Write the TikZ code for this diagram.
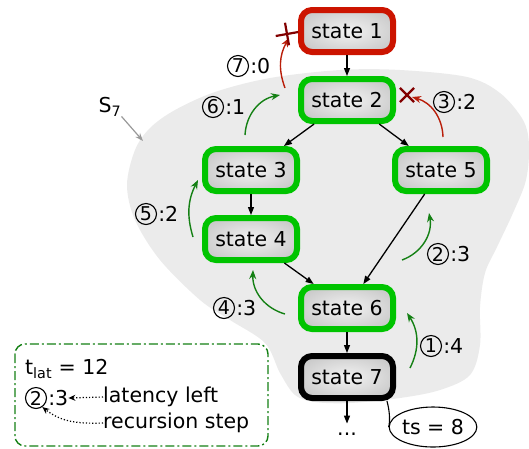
\documentclass[tikz,border=0pt]{standalone}
\usepackage{fontspec}
\setmainfont{DejaVu Sans}
\usetikzlibrary{arrows.meta,positioning}
\usetikzlibrary{shapes.misc,shapes.geometric}

\definecolor{stategreen}{RGB}{0,196,0}
\definecolor{statered}{RGB}{204,20,0}
\definecolor{stepgreen}{RGB}{20,128,20}
\definecolor{stepred}{RGB}{185,30,10}
\definecolor{crossred}{RGB}{130,0,0}
\definecolor{blobgray}{RGB}{235,235,235}

\pgfdeclareradialshading{statefill}{\pgfpoint{0bp}{0bp}}{color(0bp)=(white!95!black); color(46bp)=(black!30); color(50bp)=(black!30)}

\tikzset{
	statebox/.style={rectangle, rounded corners=11pt, line width=6pt, draw=stategreen,
		minimum width=92pt, minimum height=42pt, shading=statefill,
		font=\fontsize{20.5}{24}\selectfont},
	flow/.style={-{Triangle[width=6pt,length=8pt]}, line width=1.3pt},
	stepgo/.style={-{Stealth[width=7pt,length=9pt]}, line width=1.4pt, draw=stepgreen},
	stepstop/.style={-{Stealth[width=7pt,length=9pt]}, line width=1.4pt, draw=stepred},
	stopmark/.style={cross out, draw=crossred, line width=2.2pt, minimum size=12pt, inner sep=0pt},
	steplabel/.style={font=\fontsize{20.5}{24}\selectfont, inner sep=0pt},
	stepcircle/.style={circle, draw, line width=1.1pt, minimum size=21pt, inner sep=0pt,
		font=\fontsize{19}{22}\selectfont}
}

\begin{document}
\begin{tikzpicture}[x=1pt,y=-1pt]
\useasboundingbox (0,0) rectangle (529,448);

% the set S_7
\fill[blobgray] plot[smooth cycle, tension=0.55] coordinates {
	(127,185) (135,150) (150,128) (175,110) (215,92) (270,78) (340,70) (400,70)
	(467,77) (500,93) (523,120) (529,145) (526,180) (513,213) (497,247) (485,273)
	(480,307) (480,345) (470,375) (440,390) (400,398) (350,403) (315,402) (295,395)
	(280,373) (265,343) (230,320) (200,300) (160,260) (135,220)};

\node[steplabel] (sname) at (110,107) {S\textsubscript{7}};
\coordinate (sedge) at (143,141);
\draw[-{Stealth[width=6pt,length=8pt]}, line width=1.2pt, gray!80] (sname.south east) -- (sedge);

% states
\node[statebox, draw=statered] (s1) at (347,31) {state 1};
\node[statebox] (s2) at (347,100) {state 2};
\node[statebox] (s3) at (251,170) {state 3};
\node[statebox] (s5) at (441,170) {state 5};
\node[statebox] (s4) at (251,239) {state 4};
\node[statebox] (s6) at (347,308) {state 6};
\node[statebox, draw=black] (s7) at (347,377) {state 7};
\node[steplabel, anchor=base] (more) at (347,435) {\vphantom{x}...};
\node[ellipse, draw, line width=1.1pt, minimum width=66pt, minimum height=40pt, inner sep=0pt,
	font=\fontsize{20.5}{24}\selectfont] (ts) at (433,427) {ts = 8};

\draw[flow] (s1) -- (s2);
\draw[flow] (s2) -- (s3);
\draw[flow] (s2) -- (s5);
\draw[flow] (s3) -- (s4);
\draw[flow] (s4) -- (s6);
\draw[flow] (s5) -- (s6);
\draw[flow] (s6) -- (s7);
\draw[flow] (s7) -- (more.north);
\draw[line width=1.1pt] (s7.-31) .. controls (390,412) and (390,422) .. (ts.west);

% recursion steps
\coordinate (r1a) at (410,368); \coordinate (r1b) at (407,313);
\coordinate (r2a) at (402,260); \coordinate (r2b) at (429,213);
\coordinate (r3a) at (443,137); \coordinate (r3b) at (412,97);
\coordinate (r4a) at (285,314); \coordinate (r4b) at (253,270);
\coordinate (r5a) at (193,237); \coordinate (r5b) at (198,180);
\coordinate (r6a) at (245,135); \coordinate (r6b) at (280,95);
\coordinate (r7a) at (285,88); \coordinate (r7b) at (289,38);

\draw[stepgo] (r1a) to[bend right=30] (r1b);
\draw[stepgo] (r2a) to[bend right=40] (r2b);
\draw[stepstop] (r3a) to[bend right=36] (r3b);
\draw[stepgo] (r4a) to[bend left=38] (r4b);
\draw[stepgo] (r5a) to[bend left=22] (r5b);
\draw[stepgo] (r6a) to[bend left=38] (r6b);
\draw[stepstop] (r7a) to[bend left=25] (r7b);
\node[stopmark] (x3) at (407,95) {};
\node[stopmark, minimum size=14pt, rotate=55] (x7) at (287,34) {};

\node[stepcircle] (c1) at (431,346) {1};
\node[stepcircle] (c2) at (438,254) {2};
\node[stepcircle] (c3) at (444,102) {3};
\node[stepcircle] (c4) at (224,308) {4};
\node[stepcircle] (c5) at (146,214) {5};
\node[stepcircle] (c6) at (213,107) {6};
\node[stepcircle] (c7) at (238,66) {7};
\node[steplabel, right=1pt of c1] (l1) {:4};
\node[steplabel, right=1pt of c2] (l2) {:3};
\node[steplabel, right=1pt of c3] (l3) {:2};
\node[steplabel, right=1pt of c4] (l4) {:3};
\node[steplabel, right=1pt of c5] (l5) {:2};
\node[steplabel, right=1pt of c6] (l6) {:1};
\node[steplabel, right=1pt of c7] (l7) {:0};

% legend
\draw[stepgreen, line width=1.4pt, dash pattern=on 9pt off 3pt on 2pt off 3pt, rounded corners=10pt]
	(15,344) rectangle (268,446);
\node[steplabel, anchor=west] (tlat) at (25,369) {t\textsubscript{lat} = 12};
\node[stepcircle] (c0) at (36,398) {2};
\node[steplabel, right=1pt of c0] (l0) {:3};
\node[steplabel, anchor=west] (lleft) at (103,397) {latency left};
\node[steplabel, anchor=west] (lrec) at (103,423) {recursion step};
\draw[dotted, line width=1.2pt, -{Stealth[width=6pt,length=7pt]}] (lleft.west) -- (l0.east);
\draw[dotted, line width=1.2pt, -{Stealth[width=6pt,length=7pt]}] (lrec.west) .. controls (75,424) and (60,421) .. (c0.-55);
\end{tikzpicture}
\end{document}
